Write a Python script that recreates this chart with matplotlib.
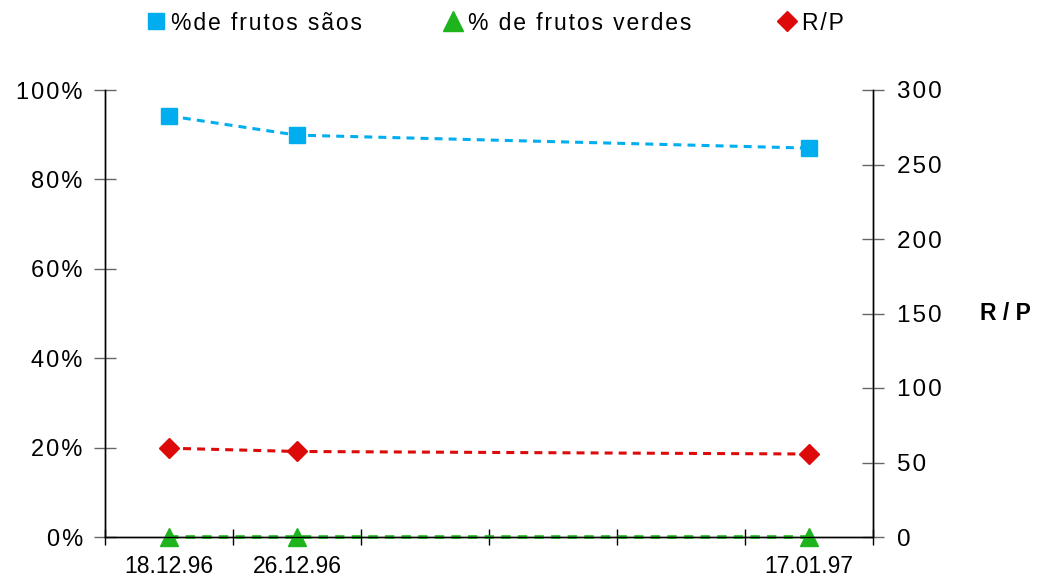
import numpy as np
import matplotlib.pyplot as plt
from matplotlib.lines import Line2D

plt.rcParams['font.family'] = ['Liberation Sans', 'DejaVu Sans']

# categorias do eixo x (6 posições, só 3 com dados)
pos = [0, 1, 5]
datas = ['18.12.96', '26.12.96', '17.01.97']
sao = [0.942, 0.899, 0.870]      # % de frutos sãos
verde = [0.0, 0.0, 0.0]          # % de frutos verdes
rp = [59.6, 57.4, 55.7]          # R/P (eixo da direita)
pct_ticks = ['0%', '20%', '40%', '60%', '80%', '100%']
rp_ticks = ['0', '50', '100', '150', '200', '250', '300']

c_azul = '#00AEEF'
c_verde = '#1DB41D'
c_verm = '#DD0A0A'
HS = '\u200a'  # espaço fino para imitar o espaçamento entre letras


def espacado(s):
    return HS.join(s)


fig = plt.figure(figsize=(10.45, 5.81), dpi=100)
ax = fig.add_axes([105/1045, 44/581, 768/1045, 447/581])
ax2 = ax.twinx()

traco = (0, (2.6, 2.0))
ax.plot(pos, sao, color=c_azul, ls=traco, lw=2.2, marker='s', ms=12, mec=c_azul, zorder=3)
ax.plot(pos, verde, color=c_verde, ls=traco, lw=2.6, marker='^', ms=13, mec=c_verde, zorder=3, clip_on=False)
ax2.plot(pos, rp, color=c_verm, ls=traco, lw=2.2, marker='D', ms=10, mec=c_verm, zorder=3)

ax.set_xlim(-0.5, 5.5)
ax.set_ylim(0, 1.0)
ax2.set_ylim(0, 300)

ax.set_xticks(np.arange(-0.5, 6, 1))
ax.set_xticklabels([])
ax.set_xticks(pos, minor=True)
ax.set_xticklabels(datas, minor=True, fontsize=16.5)
ax.tick_params(axis='x', which='major', direction='inout', length=12, width=1)
ax.tick_params(axis='x', which='minor', length=0, pad=13)

ax.set_yticks(np.arange(0, 1.01, 0.2))
ax.set_yticklabels([espacado(t) for t in pct_ticks], fontsize=17)
ax.tick_params(axis='y', direction='inout', length=16, width=1, color='#666666', pad=8)
ax2.set_yticks(np.arange(0, 301, 50))
ax2.set_yticklabels([espacado(t) for t in rp_ticks], fontsize=17.5)
ax2.tick_params(axis='y', direction='inout', length=16, width=1, color='#666666', pad=9)

for a in (ax, ax2):
    a.spines['top'].set_visible(False)
    a.spines['left'].set_linewidth(1)
    a.spines['right'].set_linewidth(1)
    a.spines['bottom'].set_linewidth(1)

fig.text(1005/1045, 1 - 313/581, 'R / P', fontsize=16.5, fontweight='bold', ha='center', va='center')

# legenda no topo, uma entrada de cada vez
entradas = [
    (Line2D([], [], ls='none', marker='s', ms=12, color=c_azul), '%de frutos sãos', 147),
    (Line2D([], [], ls='none', marker='^', ms=14, color=c_verde), '% de frutos verdes', 444),
    (Line2D([], [], ls='none', marker='D', ms=10, color=c_verm), 'R/P', 778),
]
for h, txt, x0 in entradas:
    fig.legend([h], [espacado(txt)], loc='center left', bbox_to_anchor=(x0/1045, 1 - 23/581),
               frameon=False, fontsize=16.5, borderpad=0, borderaxespad=0,
               handlelength=0.8, handletextpad=0.25)

fig.savefig('out.png', dpi=100)
